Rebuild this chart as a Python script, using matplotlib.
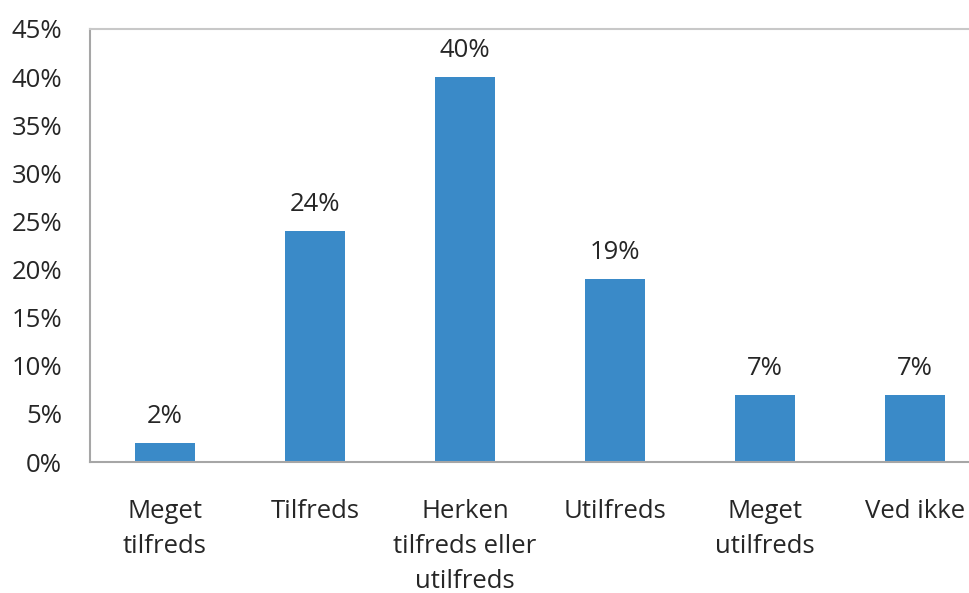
import matplotlib.pyplot as plt
from matplotlib.ticker import FuncFormatter

# survey answers and shares (percent)
categories = ['Meget\ntilfreds', 'Tilfreds', 'Herken\ntilfreds eller\nutilfreds',
              'Utilfreds', 'Meget\nutilfreds', 'Ved ikke']
values = [2, 24, 40, 19, 7, 7]
yticks = [0, 5, 10, 15, 20, 25, 30, 35, 40, 45]

plt.rcParams['font.family'] = ['Open Sans', 'DejaVu Sans']
text_color = '#262626'
fs = 18.5

fig = plt.figure(figsize=(9.7, 5.93), dpi=100)
# plot area runs past the right edge of the picture, as in the original
ax = fig.add_axes([90 / 970, 1 - 462 / 593, 900 / 970, 433 / 593])

x = list(range(len(categories)))
ax.bar(x, values, width=0.4, color='#3a8ac8')

for xi, v in zip(x, values):
    ax.annotate('%d%%' % v, (xi, v), xytext=(0, 10), textcoords='offset points',
                ha='center', va='bottom', fontsize=fs, color=text_color)

ax.set_xlim(-0.5, len(categories) - 0.5)
ax.set_ylim(0, 45)
ax.set_yticks(yticks)
ax.yaxis.set_major_formatter(FuncFormatter(lambda v, p: '%d%%' % v))
ax.set_xticks(x)
ax.set_xticklabels(categories, linespacing=1.5)

ax.tick_params(axis='y', length=0, pad=20, labelsize=fs, labelcolor=text_color)
ax.tick_params(axis='x', length=0, pad=27, labelsize=fs, labelcolor=text_color)
for lbl in ax.get_xticklabels():
    lbl.set_va('top')

ax.spines['right'].set_visible(False)
ax.spines['left'].set_color('#a6a6a6')
ax.spines['bottom'].set_color('#a6a6a6')
ax.spines['top'].set_color('#c8c8c8')
for s in ax.spines.values():
    s.set_linewidth(1.5)

fig.savefig('out.png', dpi=100)
